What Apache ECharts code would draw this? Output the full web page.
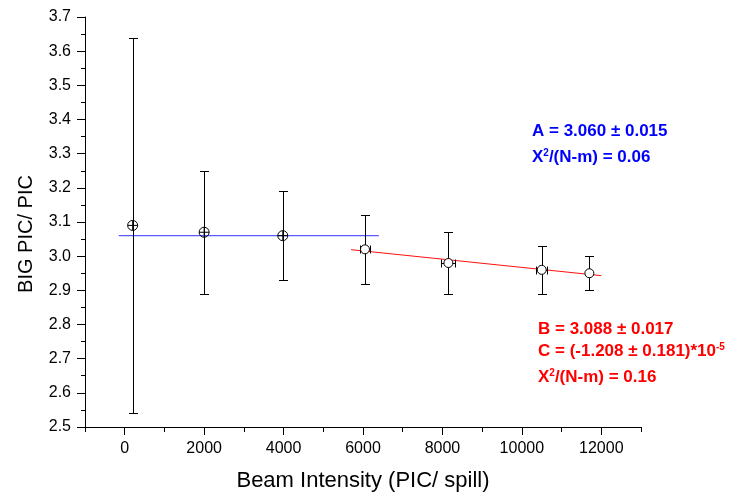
<!DOCTYPE html>
<html>
<head>
<meta charset="utf-8">
<script src="https://cdn.jsdelivr.net/npm/echarts@6/dist/echarts.min.js"></script>
<style>
html,body{margin:0;padding:0;background:#fff;}
#chart{width:733px;height:492px;}
</style>
</head>
<body>
<div id="chart"></div>
<script>
// ---- data ----
const xVals = [200, 2000, 3980, 6050, 8150, 10500, 11700];
const yVals = [3.09, 3.07, 3.06, 3.02, 2.98, 2.96, 2.95];
const yErr = [0.55, 0.18, 0.13, 0.10, 0.09, 0.07, 0.05];
const xErr = [0, 0, 0, 130, 175, 145, 0];
const markerKinds = ['cross', 'cross', 'cross', 'open', 'open', 'open', 'open'];

const fitA = [[-150, 3.06], [6400, 3.06]];          // constant fit (blue)
const fitBC = [[5700, 3.019], [12000, 2.943]];      // linear fit (red)

const xTickLabels = [0, 2000, 4000, 6000, 8000, 10000, 12000];
const xMin = -1000, xMax = 13000;
const yMin = 2.5, yMax = 3.7;

const xTitle = 'Beam Intensity (PIC/ spill)';
const yTitle = 'BIG PIC/ PIC';
const blueLines = ['A = 3.060 ± 0.015', '0.06'];
const redLines = ['B = 3.088 ± 0.017', '(-1.208 ± 0.181)', '0.16'];

// ---- build chart ----
const FONT = "'Liberation Sans', Arial, sans-serif";
const errData = xVals.map((x, i) => [x, yVals[i], yErr[i], xErr[i]]);
const crossData = [], openData = [];
xVals.forEach((x, i) => {
  (markerKinds[i] === 'cross' ? crossData : openData).push([x, yVals[i]]);
});

function px(v) { return Math.round(v) + 0.5; }

function renderErr(params, api) {
  const x = api.value(0), y = api.value(1), ey = api.value(2), ex = api.value(3);
  const top = api.coord([x, y + ey]);
  const bot = api.coord([x, y - ey]);
  const cx = px(top[0]);
  const t = px(top[1]), b = px(bot[1]);
  const capW = 4.5, capH = 4;
  const style = { stroke: '#000', lineWidth: 1, fill: null };
  const children = [
    { type: 'line', shape: { x1: cx, y1: t, x2: cx, y2: b }, style },
    { type: 'line', shape: { x1: cx - capW, y1: t, x2: cx + capW, y2: t }, style },
    { type: 'line', shape: { x1: cx - capW, y1: b, x2: cx + capW, y2: b }, style }
  ];
  if (ex > 0) {
    const l = api.coord([x - ex, y]);
    const r = api.coord([x + ex, y]);
    const cy = px(l[1]);
    const lx = px(l[0]), rx = px(r[0]);
    children.push(
      { type: 'line', shape: { x1: lx, y1: cy, x2: rx, y2: cy }, style },
      { type: 'line', shape: { x1: lx, y1: cy - capH, x2: lx, y2: cy + capH }, style },
      { type: 'line', shape: { x1: rx, y1: cy - capH, x2: rx, y2: cy + capH }, style }
    );
  }
  return { type: 'group', children };
}

const textBase = { fontFamily: FONT, fontSize: 17, fontWeight: 'bold' };
function supRich(color) {
  return {
    n: { fontFamily: FONT, fontSize: 17, fontWeight: 'bold', fill: color },
    s: { fontFamily: FONT, fontSize: 10, fontWeight: 'bold', fill: color, verticalAlign: 'top' }
  };
}

const chart = echarts.init(document.getElementById('chart'), null, { renderer: 'canvas' });
chart.setOption({
  animation: false,
  backgroundColor: '#fff',
  grid: { left: 85, right: 92, top: 17, bottom: 65, containLabel: false, outerBoundsMode: 'none' },
  xAxis: [
    {
      type: 'value', position: 'bottom', min: xMin, max: xMax, interval: 1000,
      axisLine: { show: true, onZero: false, lineStyle: { color: '#000', width: 1 } },
      axisTick: { show: true, length: 5, lineStyle: { color: '#000' } },
      axisLabel: { show: false },
      splitLine: { show: false },
      name: xTitle, nameLocation: 'middle', nameGap: 43,
      nameTextStyle: { fontFamily: FONT, fontSize: 22, color: '#000' }
    },
    {
      type: 'value', position: 'bottom', min: xMin, max: xMax, interval: 1000,
      axisLine: { show: false, onZero: false },
      axisTick: { show: true, length: 8, customValues: xTickLabels, lineStyle: { color: '#000' } },
      axisLabel: { show: true, customValues: xTickLabels, margin: 14, fontFamily: FONT, fontSize: 16, color: '#000', formatter: v => String(v) },
      splitLine: { show: false }
    }
  ],
  yAxis: {
    type: 'value', min: yMin, max: yMax, interval: 0.1,
    axisLine: { show: true, onZero: false, lineStyle: { color: '#000', width: 1 } },
    axisTick: { show: true, length: 8, lineStyle: { color: '#000' } },
    minorTick: { show: true, splitNumber: 2, length: 4, lineStyle: { color: '#000' } },
    axisLabel: { margin: 14, fontFamily: FONT, fontSize: 16, color: '#000', formatter: v => v.toFixed(1) },
    splitLine: { show: false }
  },
  graphic: [
    {
      type: 'text', x: 26, y: 234, rotation: Math.PI / 2,
      style: { text: yTitle, fontFamily: FONT, fontSize: 20, fill: '#000', align: 'center', verticalAlign: 'middle' }
    },
    { type: 'text', x: 532, y: 131, style: Object.assign({ text: blueLines[0], fill: '#0000ff', verticalAlign: 'middle' }, textBase) },
    { type: 'text', x: 532, y: 157, style: { text: '{n|X}{s|2}{n|/(N-m) = ' + blueLines[1] + '}', rich: supRich('#0000ff'), verticalAlign: 'middle' } },
    { type: 'text', x: 538, y: 329, style: Object.assign({ text: redLines[0], fill: '#ff0000', verticalAlign: 'middle' }, textBase) },
    { type: 'text', x: 538, y: 351, style: { text: '{n|C = ' + redLines[1] + '*10}{s|-5}', rich: supRich('#ff0000'), verticalAlign: 'middle' } },
    { type: 'text', x: 538, y: 377, style: { text: '{n|X}{s|2}{n|/(N-m) = ' + redLines[2] + '}', rich: supRich('#ff0000'), verticalAlign: 'middle' } }
  ],
  series: [
    {
      type: 'line', data: fitA, symbol: 'none', z: 1,
      lineStyle: { color: '#5a5aff', width: 1.2 }
    },
    {
      type: 'line', data: fitBC, symbol: 'none', z: 1,
      lineStyle: { color: '#ff1010', width: 1 }
    },
    {
      type: 'custom', renderItem: renderErr, data: errData, z: 2,
      encode: { x: 0, y: 1 }
    },
    {
      type: 'scatter', data: openData, symbol: 'circle', symbolSize: 9, z: 3,
      itemStyle: { color: '#fff', borderColor: '#000', borderWidth: 1, opacity: 1 }
    },
    {
      type: 'scatter', data: crossData, z: 3, symbolSize: 10,
      symbol: 'path://M10,0 A10,10 0 1,1 -10,0 A10,10 0 1,1 10,0 Z M-10,0 L10,0 M0,-10 L0,10',
      itemStyle: { color: 'rgba(0,0,0,0)', borderColor: '#000', borderWidth: 1, opacity: 1 }
    }
  ]
});
</script>
</body>
</html>
